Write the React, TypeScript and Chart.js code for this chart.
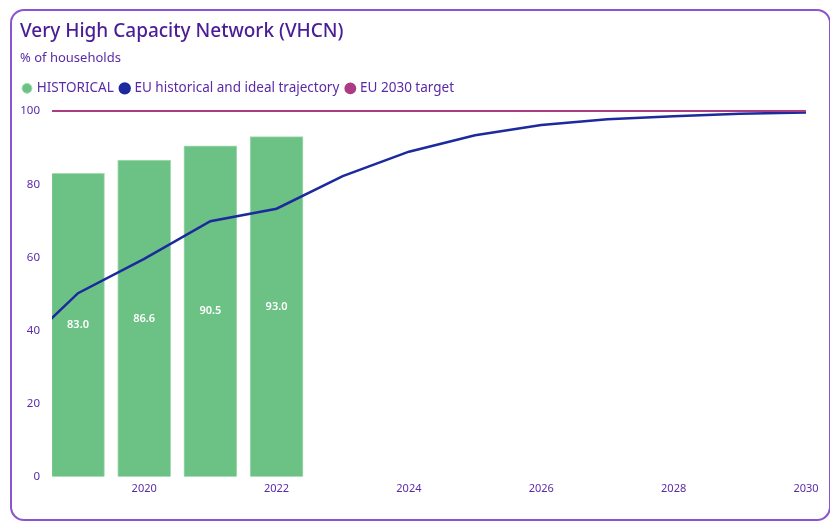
import React, { useEffect, useRef } from "react";
import { Chart, registerables } from "chart.js";

Chart.register(...registerables);

const trajectoryYears = [2018, 2019, 2020, 2021, 2022, 2023, 2024, 2025, 2026, 2027, 2028, 2029, 2030];
const trajectoryValues = [33.0, 50.2, 59.6, 69.9, 73.3, 82.2, 88.9, 93.4, 96.2, 97.8, 98.6, 99.3, 99.6];
const historicalYears = [2019, 2020, 2021, 2022];
const historicalValues = [83.0, 86.6, 90.5, 93.0];
const targetYears = [2018, 2030];
const targetValues = [100, 100];
const xTickYears = [2020, 2022, 2024, 2026, 2028, 2030];
const yTickValues = [0, 20, 40, 60, 80, 100];

const FONT = "'Noto Sans', sans-serif";
const TEXT = "#5a2aa8";

const barLabels = {
  id: "barLabels",
  afterDatasetsDraw(chart: any) {
    const ctx = chart.ctx;
    chart.data.datasets.forEach((ds: any, i: number) => {
      if (ds.type !== "bar") return;
      const meta = chart.getDatasetMeta(i);
      meta.data.forEach((el: any, j: number) => {
        const { x, y, base } = el.getProps(["x", "y", "base"], true);
        const v = ds.data[j].y;
        ctx.save();
        ctx.fillStyle = "#ffffff";
        ctx.font = `600 11px ${FONT}`;
        ctx.textAlign = "center";
        ctx.textBaseline = "middle";
        ctx.fillText(v.toFixed(1), x, (y + base) / 2);
        ctx.restore();
      });
    });
  },
};

const legendShift = {
  id: "legendShift",
  afterLayout(chart: any) {
    if (chart.legend) chart.legend.left -= 4;
  },
};

export default function App() {
  const ref = useRef<HTMLCanvasElement | null>(null);
  useEffect(() => {
    if (!ref.current) return;
    const chart = new Chart(ref.current, {
      type: "bar",
      data: {
        datasets: [
          {
            type: "bar",
            label: "HISTORICAL",
            data: historicalYears.map((x, i) => ({ x, y: historicalValues[i] })),
            backgroundColor: "#6cc184",
            borderColor: "#a6dcb4",
            borderWidth: 1,
            barThickness: 53,
            order: 3,
          } as any,
          {
            type: "line",
            label: "EU historical and ideal trajectory",
            data: trajectoryYears.map((x, i) => ({ x, y: trajectoryValues[i] })),
            borderColor: "#1c2a9e",
            backgroundColor: "#1c2a9e",
            borderWidth: 2.5,
            pointRadius: 0,
            tension: 0,
            order: 2,
          } as any,
          {
            type: "line",
            label: "EU 2030 target",
            data: targetYears.map((x, i) => ({ x, y: targetValues[i] })),
            borderColor: "#ab3c84",
            backgroundColor: "#ab3c84",
            borderWidth: 2,
            pointRadius: 0,
            order: 1,
          } as any,
        ],
      },
      options: {
        animation: false,
        responsive: true,
        maintainAspectRatio: false,
        layout: { padding: { top: 0, left: 20, right: 24, bottom: 22 } },
        plugins: {
          title: {
            display: true,
            text: "Very High Capacity Network (VHCN)",
            align: "start",
            color: "#4a1c96",
            font: { family: FONT, size: 19, weight: "500" as any },
            padding: { top: 20, bottom: 0 },
          },
          subtitle: {
            display: true,
            text: "% of households",
            align: "start",
            color: TEXT,
            font: { family: FONT, size: 13 },
            padding: { top: 7.6, bottom: 7.6 },
          },
          legend: {
            display: true,
            align: "start",
            labels: {
              usePointStyle: true,
              pointStyle: "circle",
              boxWidth: 6,
              boxHeight: 7,
              padding: 8,
              color: TEXT,
              font: { family: FONT, size: 13.5 },
              sort: (a: any, b: any) => a.datasetIndex - b.datasetIndex,
            },
          },
          tooltip: { enabled: false },
        },
        scales: {
          x: {
            type: "linear",
            offset: false,
            min: 2018.607,
            max: 2030,
            grid: { display: false, drawTicks: false, offset: false },
            border: { display: false },
            afterBuildTicks: (s: any) => {
              s.ticks = xTickYears.map((v) => ({ value: v }));
            },
            ticks: {
              padding: 5,
              color: TEXT,
              font: { family: FONT, size: 11 },
              callback: (v: any) => String(v),
            },
          },
          y: {
            type: "linear",
            min: 0,
            max: 101.64,
            grid: { display: false, drawTicks: false },
            border: { display: false },
            afterBuildTicks: (s: any) => {
              s.ticks = yTickValues.map((v) => ({ value: v }));
            },
            afterFit: (s: any) => {
              s.width = 32;
            },
            ticks: {
              padding: 12,
              color: TEXT,
              font: { family: FONT, size: 11.5 },
              callback: (v: any) => String(v),
            },
          },
        },
      } as any,
      plugins: [barLabels, legendShift],
    });
    return () => chart.destroy();
  }, []);

  return (
    <div style={{ position: "absolute", left: 0, top: 0, width: 830, height: 522, overflow: "hidden", background: "#fff" }}>
      <div
        style={{
          position: "absolute",
          left: 10,
          top: 9,
          width: 821,
          height: 512,
          boxSizing: "border-box",
          border: "2px solid #8b55cf",
          borderRadius: 14,
        }}
      />
      <div style={{ position: "absolute", left: 0, top: 0, width: 830, height: 522 }}>
        <canvas ref={ref} />
      </div>
    </div>
  );
}
